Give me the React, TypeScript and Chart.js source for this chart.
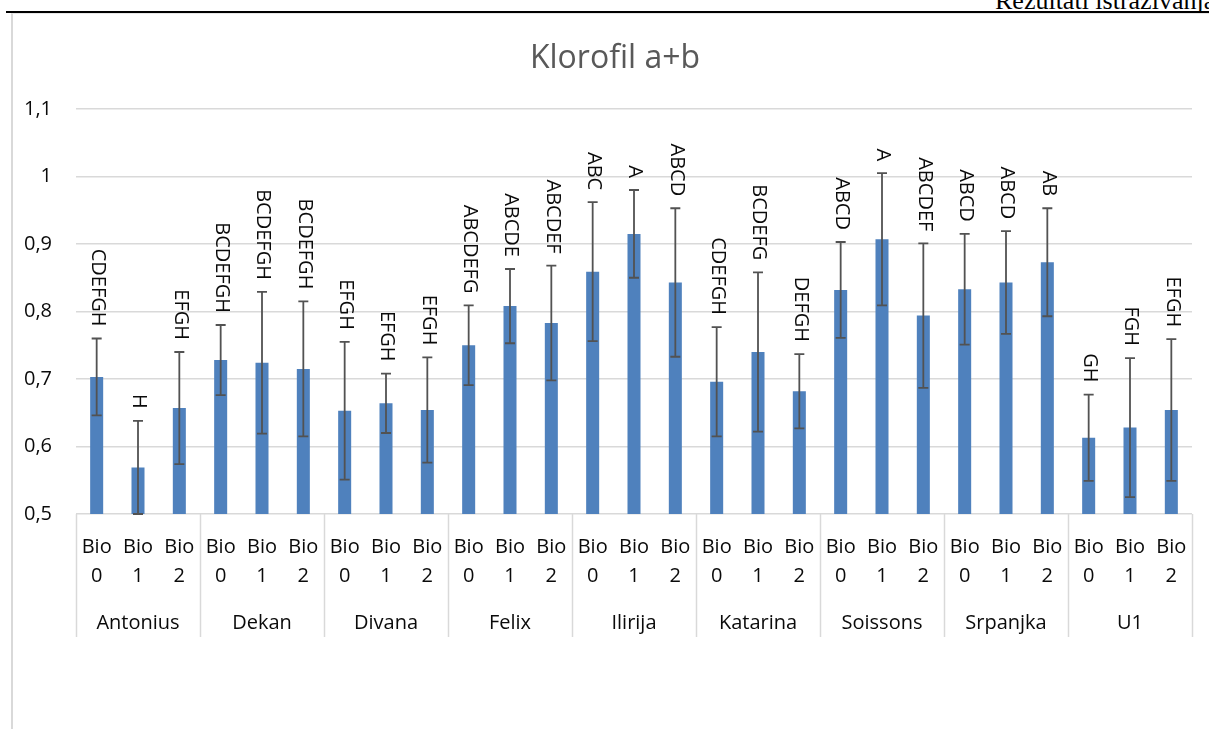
import React, { useEffect, useRef } from "react";
import { Chart, registerables } from "chart.js";

Chart.register(...registerables);

// ---- data ----
const title = "Klorofil a+b";
const cultivars = ["Antonius", "Dekan", "Divana", "Felix", "Ilirija", "Katarina", "Soissons", "Srpanjka", "U1"];
const treatments = ["Bio 0", "Bio 1", "Bio 2"];
const means = [
  0.703, 0.569, 0.657,
  0.728, 0.724, 0.715,
  0.653, 0.664, 0.654,
  0.750, 0.808, 0.783,
  0.859, 0.915, 0.843,
  0.696, 0.740, 0.682,
  0.832, 0.907, 0.794,
  0.833, 0.843, 0.873,
  0.613, 0.628, 0.654,
];
const errors = [
  0.057, 0.069, 0.083,
  0.052, 0.105, 0.100,
  0.102, 0.044, 0.078,
  0.059, 0.055, 0.085,
  0.103, 0.065, 0.110,
  0.081, 0.118, 0.055,
  0.071, 0.098, 0.107,
  0.082, 0.076, 0.080,
  0.064, 0.103, 0.105,
];
const letters = [
  "CDEFGH", "H", "EFGH",
  "BCDEFGH", "BCDEFGH", "BCDEFGH",
  "EFGH", "EFGH", "EFGH",
  "ABCDEFG", "ABCDE", "ABCDEF",
  "ABC", "A", "ABCD",
  "CDEFGH", "BCDEFG", "DEFGH",
  "ABCD", "A", "ABCDEF",
  "ABCD", "ABCD", "AB",
  "GH", "FGH", "EFGH",
];
const yMin = 0.5;
const yMax = 1.1;
const yStep = 0.1;

const FONT = '"Open Sans", sans-serif';
const TEXT = "#0a0a0a";
const GRID = "#d9d9d9";

const barLabels: string[] = [];
cultivars.forEach((c) => treatments.forEach((t) => barLabels.push(c + " " + t)));

const overlay = {
  id: "overlay",
  afterDatasetsDraw(chart: any) {
    const { ctx, chartArea } = chart;
    const xs = chart.scales.x;
    const ys = chart.scales.y;
    ctx.save();
    // error bars
    ctx.save();
    ctx.beginPath();
    ctx.rect(chartArea.left, chartArea.top, chartArea.right - chartArea.left, chartArea.bottom - chartArea.top + 1);
    ctx.clip();
    ctx.strokeStyle = "#525252";
    ctx.lineWidth = 1.8;
    means.forEach((m, i) => {
      const cx = xs.getPixelForValue(i);
      const top = ys.getPixelForValue(m + errors[i]);
      const bot = ys.getPixelForValue(m - errors[i]);
      ctx.beginPath();
      ctx.moveTo(cx, top);
      ctx.lineTo(cx, bot);
      ctx.moveTo(cx - 5, top);
      ctx.lineTo(cx + 5, top);
      ctx.moveTo(cx - 5, bot);
      ctx.lineTo(cx + 5, bot);
      ctx.stroke();
    });
    ctx.restore();

    // letter labels, rotated 90deg clockwise
    ctx.font = `20px ${FONT}`;
    ctx.fillStyle = TEXT;
    letters.forEach((txt, i) => {
      const cx = xs.getPixelForValue(i);
      const top = ys.getPixelForValue(means[i] + errors[i]);
      ctx.save();
      ctx.translate(cx + 1, top - 12);
      ctx.rotate(Math.PI / 2);
      ctx.textAlign = "right";
      ctx.textBaseline = "middle";
      ctx.fillText(txt, 0, 0);
      ctx.restore();
    });

    // multi-level x axis
    const bottom = chartArea.bottom;
    const slot = xs.getPixelForValue(1) - xs.getPixelForValue(0);
    ctx.textAlign = "center";
    ctx.textBaseline = "alphabetic";
    ctx.font = `20px ${FONT}`;
    barLabels.forEach((_, i) => {
      const cx = xs.getPixelForValue(i);
      const parts = treatments[i % treatments.length].split(" ");
      ctx.fillText(parts[0], cx, bottom + 39);
      ctx.fillText(parts[1], cx, bottom + 68);
    });
    ctx.strokeStyle = GRID;
    ctx.lineWidth = 1.5;
    for (let g = 0; g <= cultivars.length; g++) {
      const sx = Math.round(xs.getPixelForValue(g * treatments.length) - slot / 2) + 0.5;
      ctx.beginPath();
      ctx.moveTo(sx, bottom);
      ctx.lineTo(sx, bottom + 123);
      ctx.stroke();
    }
    cultivars.forEach((c, g) => {
      const a = xs.getPixelForValue(g * treatments.length);
      const b = xs.getPixelForValue(g * treatments.length + treatments.length - 1);
      ctx.fillText(c, (a + b) / 2, bottom + 115);
    });

    // title
    ctx.font = `32px ${FONT}`;
    ctx.fillStyle = "#595959";
    ctx.textAlign = "center";
    ctx.fillText(title, 602, 54);
    ctx.restore();
  },
};

function ChartBox() {
  const ref = useRef<HTMLCanvasElement | null>(null);
  useEffect(() => {
    let chart: Chart | null = null;
    let cancelled = false;
    const make = () => {
      if (cancelled || !ref.current) return;
      chart = new Chart(ref.current, {
        type: "bar",
        data: {
          labels: barLabels,
          datasets: [
            {
              data: means,
              backgroundColor: "#4f81bd",
              borderWidth: 0,
              barPercentage: 0.315,
              categoryPercentage: 1,
            },
          ],
        },
        options: {
          responsive: false,
          animation: false,
          layout: { padding: { top: 95, right: 17, bottom: 0, left: 0 } },
          plugins: { legend: { display: false }, tooltip: { enabled: false }, title: { display: false } },
          scales: {
            x: {
              type: "category",
              grid: { display: false },
              border: { display: false },
              ticks: { display: false },
              afterFit: (s: any) => {
                s.height = 215;
              },
            },
            y: {
              min: yMin,
              max: yMax,
              ticks: {
                stepSize: yStep,
                padding: 24,
                color: TEXT,
                font: { family: FONT, size: 20 },
                callback: (v: any) => String(Math.round(Number(v) * 10) / 10).replace(".", ","),
              },
              grid: { color: GRID, lineWidth: 1.5, drawTicks: false },
              border: { display: false },
              afterFit: (s: any) => {
                s.width = 63;
              },
            },
          },
        },
        plugins: [overlay],
      } as any);
    };
    const fonts: any = (document as any).fonts;
    if (fonts && fonts.load) {
      Promise.all([fonts.load(`20px ${FONT}`), fonts.load(`32px ${FONT}`)]).then(make, make);
    } else make();
    return () => {
      cancelled = true;
      if (chart) chart.destroy();
    };
  }, []);
  return (
    <canvas
      ref={ref}
      width={1196}
      height={715}
      style={{ position: "absolute", left: 13, top: 14, width: 1196, height: 715 }}
    />
  );
}

export default function App() {
  return (
    <div
      style={{
        position: "fixed",
        left: 0,
        top: 0,
        width: 1209,
        height: 729,
        overflow: "hidden",
        background: "#ffffff",
      }}
    >
      <span
        style={{
          position: "absolute",
          left: 995,
          top: -14,
          fontFamily: '"Liberation Serif", "Times New Roman", serif',
          fontSize: 26,
          lineHeight: "normal",
          whiteSpace: "nowrap",
          color: "#000",
        }}
      >
        Rezultati istraživanja
      </span>
      <div style={{ position: "absolute", left: 6, top: 11, width: 1203, height: 2, background: "#000" }} />
      <div
        style={{
          position: "absolute",
          left: 11,
          top: 13,
          width: 1400,
          height: 800,
          borderLeft: "2px solid #d9d9d9",
          borderTop: "1px solid #e6e6e6",
        }}
      />
      <ChartBox />
    </div>
  );
}
